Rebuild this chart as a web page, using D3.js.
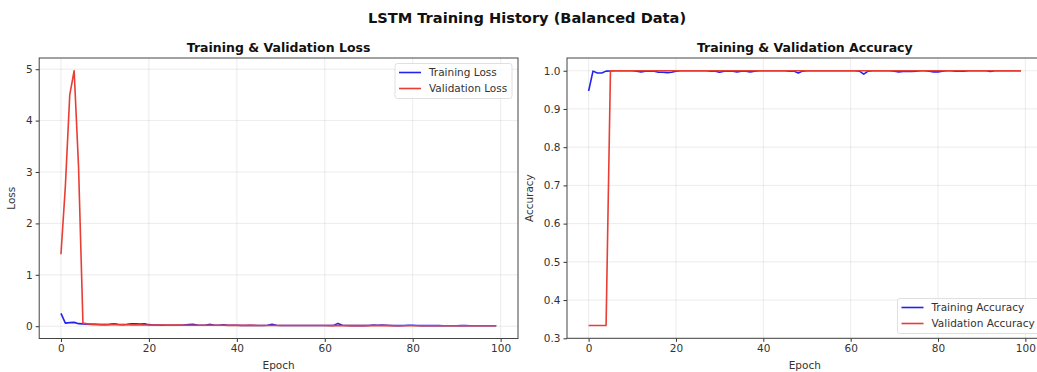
<!DOCTYPE html>
<html>
<head>
<meta charset="utf-8">
<script src="https://cdn.jsdelivr.net/npm/d3@7"></script>
<style>
  body { margin: 0; background: #fff; }
  svg { display: block; font-family: "DejaVu Sans", sans-serif; }
</style>
</head>
<body>
<div id="chart"></div>
<script>
// epochs 0..99
const epochs = d3.range(0, 100);

const trainLoss = [
  0.25, 0.06, 0.07, 0.075, 0.05, 0.045, 0.04, 0.035, 0.035, 0.03,
  0.03, 0.035, 0.045, 0.035, 0.03, 0.035, 0.045, 0.045, 0.04, 0.045,
  0.03, 0.025, 0.025, 0.02, 0.02, 0.02, 0.02, 0.02, 0.025, 0.03,
  0.035, 0.025, 0.02, 0.025, 0.035, 0.02, 0.02, 0.03, 0.02, 0.02,
  0.02, 0.015, 0.015, 0.02, 0.015, 0.015, 0.015, 0.02, 0.04, 0.02,
  0.015, 0.015, 0.015, 0.015, 0.015, 0.015, 0.015, 0.015, 0.015, 0.015,
  0.015, 0.015, 0.015, 0.055, 0.02, 0.015, 0.012, 0.012, 0.012, 0.012,
  0.015, 0.025, 0.02, 0.025, 0.02, 0.015, 0.012, 0.012, 0.015, 0.02,
  0.02, 0.015, 0.012, 0.012, 0.012, 0.015, 0.012, 0.01, 0.01, 0.01,
  0.01, 0.012, 0.015, 0.01, 0.01, 0.01, 0.01, 0.01, 0.01, 0.01
];
const valLoss = [
  1.40, 2.72, 4.50, 4.97, 3.10, 0.06, 0.045, 0.04, 0.035, 0.033,
  0.03, 0.03, 0.03, 0.028, 0.028, 0.027, 0.027, 0.026, 0.026, 0.025,
  0.024, 0.024, 0.023, 0.023, 0.022, 0.022, 0.021, 0.021, 0.02, 0.02,
  0.02, 0.02, 0.019, 0.019, 0.019, 0.018, 0.018, 0.018, 0.017, 0.017,
  0.017, 0.016, 0.016, 0.016, 0.016, 0.015, 0.015, 0.015, 0.015, 0.015,
  0.014, 0.014, 0.014, 0.014, 0.014, 0.013, 0.013, 0.013, 0.013, 0.013,
  0.013, 0.012, 0.012, 0.012, 0.012, 0.012, 0.012, 0.012, 0.011, 0.011,
  0.011, 0.011, 0.011, 0.011, 0.011, 0.011, 0.01, 0.01, 0.01, 0.01,
  0.01, 0.01, 0.01, 0.01, 0.01, 0.01, 0.01, 0.01, 0.009, 0.009,
  0.009, 0.009, 0.009, 0.009, 0.009, 0.009, 0.009, 0.009, 0.009, 0.009
];
const trainAcc = [
  0.947, 0.999, 0.994, 0.994, 0.999, 0.9995, 1.0, 1.0, 1.0, 1.0,
  1.0, 0.999, 0.997, 0.999, 0.999, 0.999, 0.996, 0.996, 0.995, 0.996,
  0.999, 1.0, 1.0, 1.0, 1.0, 1.0, 1.0, 1.0, 0.999, 0.999,
  0.996, 0.999, 0.999, 0.999, 0.997, 0.999, 0.999, 0.997, 0.999, 1.0,
  1.0, 1.0, 1.0, 1.0, 1.0, 1.0, 0.999, 0.999, 0.994, 0.999,
  1.0, 1.0, 1.0, 1.0, 1.0, 1.0, 1.0, 1.0, 1.0, 1.0,
  1.0, 1.0, 0.999, 0.991, 0.999, 1.0, 1.0, 1.0, 1.0, 1.0,
  0.999, 0.997, 0.998, 0.998, 0.998, 0.999, 1.0, 1.0, 0.999, 0.997,
  0.997, 0.999, 1.0, 1.0, 0.999, 0.999, 0.999, 1.0, 1.0, 1.0,
  1.0, 1.0, 0.998, 1.0, 1.0, 1.0, 1.0, 1.0, 1.0, 1.0
];
const valAcc = [
  0.3333, 0.3333, 0.3333, 0.3333, 0.3333, 1.0, 1.0, 1.0, 1.0, 1.0,
  1.0, 1.0, 1.0, 1.0, 1.0, 1.0, 1.0, 1.0, 1.0, 1.0,
  1.0, 1.0, 1.0, 1.0, 1.0, 1.0, 1.0, 1.0, 1.0, 1.0,
  1.0, 1.0, 1.0, 1.0, 1.0, 1.0, 1.0, 1.0, 1.0, 1.0,
  1.0, 1.0, 1.0, 1.0, 1.0, 1.0, 1.0, 1.0, 1.0, 1.0,
  1.0, 1.0, 1.0, 1.0, 1.0, 1.0, 1.0, 1.0, 1.0, 1.0,
  1.0, 1.0, 1.0, 1.0, 1.0, 1.0, 1.0, 1.0, 1.0, 1.0,
  1.0, 1.0, 1.0, 1.0, 1.0, 1.0, 1.0, 1.0, 1.0, 1.0,
  1.0, 1.0, 1.0, 1.0, 1.0, 1.0, 1.0, 1.0, 1.0, 1.0,
  1.0, 1.0, 1.0, 1.0, 1.0, 1.0, 1.0, 1.0, 1.0, 1.0
];

const xTicks = [0, 20, 40, 60, 80, 100];
const lossTicks = [0, 1, 2, 3, 4, 5];
const accTicks = [0.3, 0.4, 0.5, 0.6, 0.7, 0.8, 0.9, 1.0];

const width = 1037, height = 372;
const blue = "rgb(35,35,240)", red = "rgb(232,62,52)";

const svg = d3.select("#chart").append("svg")
    .attr("width", width)
    .attr("height", height)
    .attr("viewBox", [0, 0, width, height]);

svg.append("text")
    .attr("x", 527).attr("y", 23)
    .attr("text-anchor", "middle")
    .attr("font-size", 14.6).attr("font-weight", "bold")
    .attr("fill", "#111")
    .text("LSTM Training History (Balanced Data)");

// matplotlib style 5% auto margins
function padded(vals) {
    const [lo, hi] = d3.extent(vals);
    const m = (hi - lo) * 0.05;
    return [lo - m, hi + m];
}

function panel(p) {
    const g = svg.append("g");
    const x = d3.scaleLinear(padded(epochs), [p.left, p.right]);
    const y = d3.scaleLinear(padded(p.series[0].values.concat(p.series[1].values)), [p.bottom, p.top]);

    // grid
    g.append("g")
        .selectAll("line")
        .data(xTicks)
        .join("line")
        .attr("x1", d => x(d)).attr("x2", d => x(d))
        .attr("y1", p.top).attr("y2", p.bottom)
        .attr("stroke", "#b0b0b0").attr("stroke-opacity", 0.3).attr("stroke-width", 0.8);
    g.append("g")
        .selectAll("line")
        .data(p.yTicks)
        .join("line")
        .attr("x1", p.left).attr("x2", p.right)
        .attr("y1", d => y(d)).attr("y2", d => y(d))
        .attr("stroke", "#b0b0b0").attr("stroke-opacity", 0.3).attr("stroke-width", 0.8);

    // lines
    const line = d3.line().x((d, i) => x(i)).y(d => y(d));
    p.series.forEach(s => {
        g.append("path")
            .datum(s.values)
            .attr("fill", "none")
            .attr("stroke", s.color)
            .attr("stroke-width", 1.6)
            .attr("stroke-linejoin", "round")
            .attr("d", line);
    });

    // axes
    g.append("g")
        .attr("transform", `translate(0,${p.bottom})`)
        .call(d3.axisBottom(x).tickValues(xTicks).tickSize(3.5).tickPadding(3).tickFormat(d3.format("d")))
        .call(a => a.select(".domain").remove())
        .call(a => a.selectAll("text").attr("font-size", 10.5).attr("fill", "#333").attr("font-family", "DejaVu Sans"))
        .call(a => a.selectAll("line").attr("stroke", "#333"));
    g.append("g")
        .attr("transform", `translate(${p.left},0)`)
        .call(d3.axisLeft(y).tickValues(p.yTicks).tickSize(3.5).tickPadding(3).tickFormat(p.fmt))
        .call(a => a.select(".domain").remove())
        .call(a => a.selectAll("text").attr("font-size", 10.5).attr("fill", "#333").attr("font-family", "DejaVu Sans"))
        .call(a => a.selectAll("line").attr("stroke", "#333"));

    // frame
    g.append("rect")
        .attr("x", p.left).attr("y", p.top)
        .attr("width", p.right - p.left).attr("height", p.bottom - p.top)
        .attr("fill", "none").attr("stroke", "#444").attr("stroke-width", 1);

    // titles
    g.append("text")
        .attr("x", (p.left + p.right) / 2).attr("y", 52)
        .attr("text-anchor", "middle")
        .attr("font-size", 12.5).attr("font-weight", "bold").attr("fill", "#111")
        .text(p.title);
    g.append("text")
        .attr("x", (p.left + p.right) / 2).attr("y", 369)
        .attr("text-anchor", "middle")
        .attr("font-size", 10.5).attr("fill", "#333")
        .text("Epoch");
    g.append("text")
        .attr("transform", `translate(${p.left - p.ylabOff},${(p.top + p.bottom) / 2}) rotate(-90)`)
        .attr("text-anchor", "middle")
        .attr("font-size", 10.5).attr("fill", "#333")
        .text(p.ylabel);

    // legend
    const lg = g.append("g").attr("transform", `translate(${p.legend.x},${p.legend.y})`);
    lg.append("rect")
        .attr("width", p.legend.w).attr("height", 35).attr("rx", 2.5)
        .attr("fill", "#fff").attr("fill-opacity", 0.8)
        .attr("stroke", "#d8d8d8").attr("stroke-width", 0.8);
    p.series.forEach((s, i) => {
        const yy = 9 + i * 16;
        lg.append("line")
            .attr("x1", 4).attr("x2", 26).attr("y1", yy).attr("y2", yy)
            .attr("stroke", s.color).attr("stroke-width", 1.6);
        lg.append("text")
            .attr("x", 34).attr("y", yy + 3.8)
            .attr("font-size", 10.5).attr("fill", "#333")
            .text(s.name);
    });
}

panel({
    left: 39.2, right: 518, top: 58, bottom: 338.5,
    title: "Training & Validation Loss", ylabel: "Loss", ylabOff: 24,
    yTicks: lossTicks, fmt: d3.format("d"),
    series: [
        { name: "Training Loss", values: trainLoss, color: blue },
        { name: "Validation Loss", values: valLoss, color: red }
    ],
    legend: { x: 395, y: 63.5, w: 117 }
});

panel({
    left: 567, right: 1042.6, top: 58, bottom: 338.3,
    title: "Training & Validation Accuracy", ylabel: "Accuracy", ylabOff: 34,
    yTicks: accTicks, fmt: d3.format(".1f"),
    series: [
        { name: "Training Accuracy", values: trainAcc, color: blue },
        { name: "Validation Accuracy", values: valAcc, color: red }
    ],
    legend: { x: 897.5, y: 298.5, w: 142 }
});
</script>
</body>
</html>
